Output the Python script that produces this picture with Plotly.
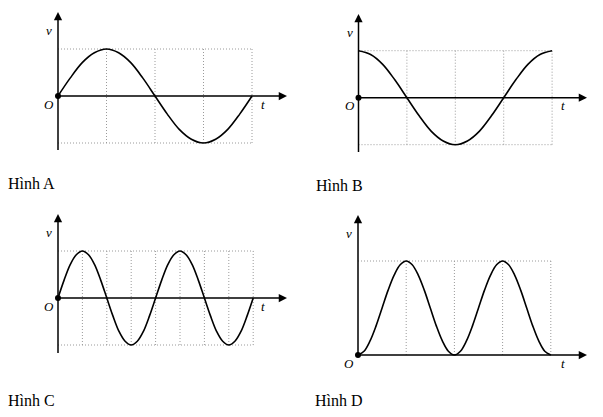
import plotly.graph_objects as go

W, H = 603, 417

# ---- data (t in quarter-period units, v in amplitude units) ----
t_one = [0, 0.25, 0.5, 0.75, 1, 1.25, 1.5, 1.75, 2, 2.25, 2.5, 2.75, 3, 3.25, 3.5, 3.75, 4]
v_A = [0, 0.38, 0.71, 0.92, 1, 0.92, 0.71, 0.38, 0, -0.38, -0.71, -0.92, -1, -0.92, -0.71, -0.38, 0]
v_B = [1, 0.92, 0.71, 0.38, 0, -0.38, -0.71, -0.92, -1, -0.92, -0.71, -0.38, 0, 0.38, 0.71, 0.92, 1]
t_two = [0, 0.25, 0.5, 0.75, 1, 1.25, 1.5, 1.75, 2, 2.25, 2.5, 2.75, 3, 3.25, 3.5, 3.75,
         4, 4.25, 4.5, 4.75, 5, 5.25, 5.5, 5.75, 6, 6.25, 6.5, 6.75, 7, 7.25, 7.5, 7.75, 8]
v_C = [0, 0.38, 0.71, 0.92, 1, 0.92, 0.71, 0.38, 0, -0.38, -0.71, -0.92, -1, -0.92, -0.71, -0.38,
       0, 0.38, 0.71, 0.92, 1, 0.92, 0.71, 0.38, 0, -0.38, -0.71, -0.92, -1, -0.92, -0.71, -0.38, 0]
v_D = [0, 0.04, 0.15, 0.31, 0.5, 0.69, 0.85, 0.96, 1, 0.96, 0.85, 0.69, 0.5, 0.31, 0.15, 0.04,
       0, 0.04, 0.15, 0.31, 0.5, 0.69, 0.85, 0.96, 1, 0.96, 0.85, 0.69, 0.5, 0.31, 0.15, 0.04, 0]
grid_A = [1, 2, 3, 4]
grid_C = [1, 2, 3, 4, 5, 6, 7, 8]
grid_D = [2, 4, 6, 8]
titles = ["Hình A", "Hình B", "Hình C", "Hình D"]

# ---- panel geometry (pixel anchors) ----
panels = [
    dict(box=(0, 0, 301, 208), ox=58, oy=96, sx=48.5, sy=47,
         t=t_one, v=v_A, grid=grid_A, tmax=4, vmin=-1, ytop=12, ybot=150, xtip=287,
         title_px=(31, 184)),
    dict(box=(301, 0, 603, 208), ox=358.5, oy=97.7, sx=48.4, sy=47,
         t=t_one, v=v_B, grid=grid_A, tmax=4, vmin=-1, ytop=14, ybot=152, xtip=587,
         title_px=(339, 185)),
    dict(box=(0, 208, 301, 417), ox=58, oy=298, sx=24.4, sy=47,
         t=t_two, v=v_C, grid=grid_C, tmax=8, vmin=-1, ytop=214, ybot=353, xtip=287,
         title_px=(31, 400)),
    dict(box=(301, 208, 603, 417), ox=358, oy=355, sx=24.1, sy=94,
         t=t_two, v=v_D, grid=grid_D, tmax=8, vmin=0, ytop=215, ybot=355, xtip=587,
         title_px=(339, 400)),
]

fig = go.Figure()
annotations = []
layout = {}
ink = "#000000"
gridc = "#9a9a9a"
lblfont = dict(family="Liberation Serif", size=13, color=ink)

for i, p in enumerate(panels):
    n = "" if i == 0 else str(i + 1)
    xa, ya = "x" + n, "y" + n
    x0, y0, x1, y1 = p["box"]
    ox, oy, sx, sy = p["ox"], p["oy"], p["sx"], p["sy"]
    layout["xaxis" + n] = dict(domain=[x0 / W, x1 / W],
                               range=[(x0 - ox) / sx, (x1 - ox) / sx],
                               visible=False, fixedrange=True, anchor=ya)
    layout["yaxis" + n] = dict(domain=[1 - y1 / H, 1 - y0 / H],
                               range=[(oy - y1) / sy, (oy - y0) / sy],
                               visible=False, fixedrange=True, anchor=xa)

    # dotted grid
    gx, gy = [], []
    for g in p["grid"]:
        gx += [g, g, None]
        gy += [p["vmin"], 1, None]
    gx += [0, p["tmax"], None]
    gy += [1, 1, None]
    if p["vmin"] < 0:
        gx += [0, p["tmax"], None]
        gy += [-1, -1, None]
    fig.add_trace(go.Scatter(x=gx, y=gy, mode="lines", xaxis=xa, yaxis=ya,
                             line=dict(color=gridc, width=1, dash="1px,2px"),
                             hoverinfo="skip", showlegend=False))

    ybot_v = (oy - p["ybot"]) / sy
    ytop_v = (oy - p["ytop"]) / sy
    xtip_v = (p["xtip"] - ox) / sx
    fig.add_trace(go.Scatter(x=[0, 0], y=[ybot_v, 0], mode="lines", xaxis=xa, yaxis=ya,
                             line=dict(color=ink, width=1.5),
                             hoverinfo="skip", showlegend=False))
    annotations.append(dict(x=0, y=ytop_v, ax=0, ay=0, xref=xa, yref=ya,
                            axref=xa, ayref=ya, text="", showarrow=True,
                            arrowhead=2, arrowsize=1.1, arrowwidth=1.5,
                            arrowcolor=ink, standoff=0, startstandoff=0))
    annotations.append(dict(x=xtip_v, y=0, ax=0, ay=0, xref=xa, yref=ya,
                            axref=xa, ayref=ya, text="", showarrow=True,
                            arrowhead=2, arrowsize=1.1, arrowwidth=1.5,
                            arrowcolor=ink, standoff=0, startstandoff=0))

    fig.add_trace(go.Scatter(x=p["t"], y=p["v"], mode="lines", xaxis=xa, yaxis=ya,
                             line=dict(color=ink, width=1.6, shape="spline", smoothing=1.0),
                             hoverinfo="skip", showlegend=False))
    fig.add_trace(go.Scatter(x=[0], y=[0], mode="markers", xaxis=xa, yaxis=ya,
                             marker=dict(color=ink, size=6),
                             hoverinfo="skip", showlegend=False))

    lab_v_y = (oy - (p["ytop"] + 18)) / sy
    annotations.append(dict(x=-9 / sx, y=lab_v_y, xref=xa, yref=ya, text="<i>v</i>",
                            showarrow=False, font=lblfont, xanchor="center", yanchor="middle"))
    annotations.append(dict(x=-9 / sx, y=-8 / sy, xref=xa, yref=ya, text="<i>O</i>",
                            showarrow=False, font=lblfont, xanchor="center", yanchor="middle"))
    annotations.append(dict(x=(p["xtip"] - 24 - ox) / sx, y=-8 / sy, xref=xa, yref=ya,
                            text="<i>t</i>", showarrow=False, font=lblfont,
                            xanchor="center", yanchor="middle"))
    tx, ty = p["title_px"]
    annotations.append(dict(x=tx / W, y=1 - ty / H, xref="paper", yref="paper",
                            text=titles[i], showarrow=False,
                            font=dict(family="Liberation Serif", size=16, color=ink),
                            xanchor="center", yanchor="middle"))

fig.update_layout(width=W, height=H, margin=dict(l=0, r=0, t=0, b=0),
                  paper_bgcolor="white", plot_bgcolor="rgba(0,0,0,0)",
                  annotations=annotations, showlegend=False, **layout)

fig.write_html("out.html", post_script="document.body.style.margin='0';",
               config={"displayModeBar": False})
